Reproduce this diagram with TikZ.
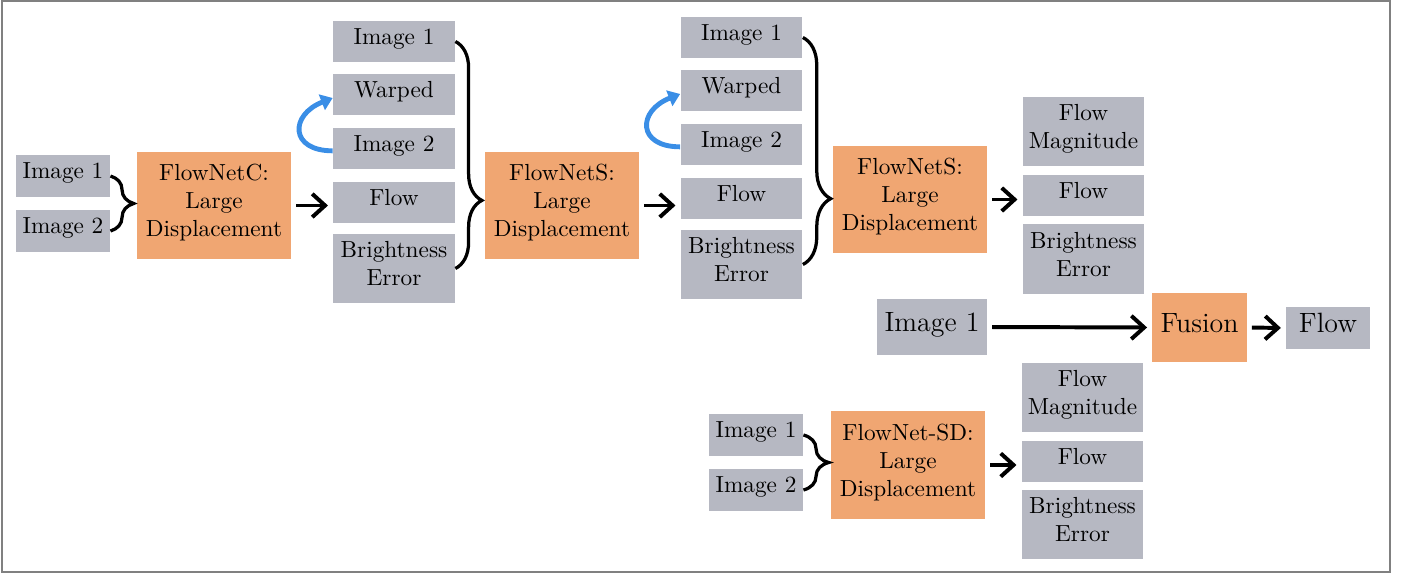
\documentclass[tikz,border=0pt]{standalone}
\usetikzlibrary{arrows.meta,positioning,decorations.pathreplacing}
\definecolor{boxgray}{RGB}{182,184,194}
\definecolor{netorange}{RGB}{240,166,114}
\definecolor{warpblue}{RGB}{58,142,230}
\tikzset
{
    every node/.style = {text depth=4.3pt},
    imgbox/.style  = {fill=boxgray, align=center, inner sep=0pt, minimum width=1.42cm, minimum height=0.63cm},
    outbox/.style  = {fill=boxgray, align=center, inner sep=0pt, minimum width=1.84cm, minimum height=0.62cm},
    tallbox/.style = {outbox, minimum height=1.05cm},
    netbox/.style  = {fill=netorange, align=center, inner sep=0pt, minimum width=2.33cm, minimum height=1.62cm},
    arr/.style     = {-{Straight Barb[length=5.5pt,width=10pt]}, line width=1.7pt},
    brc/.style     = {decorate, line width=1.4pt},
    warp/.style    = {-{Triangle[length=5pt,width=7pt]}, line width=2.1pt, draw=warpblue}
}

\begin{document}
\begin{tikzpicture}[x=0.0151cm, y=-0.0151cm]
\useasboundingbox (0,0) rectangle (1408,574);
\draw[gray, line width=0.6pt] (2,1) rectangle (1390,572);

% first stage
\node (i1)    [imgbox]                        at (63,176)                 {Image 1};
\node (i2)    [imgbox]                        at ([shift=({0,55})]i1)     {Image 2};
\node (netc)  [netbox]                        at (214,205.5)              {FlowNetC:\\Large\\Displacement};
\node (a1)    [outbox]                        at (394,41.5)               {Image 1};
\node (aw)    [outbox]                        at ([shift=({0,53})]a1)     {Warped};
\node (a2)    [outbox]                        at ([shift=({0,54})]aw)     {Image 2};
\node (af)    [outbox]                        at ([shift=({0,54})]a2)     {Flow};
\node (ae)    [tallbox]                       at ([shift=({0,66})]af)     {Brightness\\Error};

% second stage
\node (nets1) [netbox]                        at (562,205.5)              {FlowNetS:\\Large\\Displacement};
\node (b1)    [outbox]                        at (741.5,37.5)             {Image 1};
\node (bw)    [outbox]                        at ([shift=({0,53})]b1)     {Warped};
\node (b2)    [outbox]                        at ([shift=({0,54})]bw)     {Image 2};
\node (bf)    [outbox]                        at ([shift=({0,54})]b2)     {Flow};
\node (be)    [tallbox]                       at ([shift=({0,66})]bf)     {Brightness\\Error};

% third stage
\node (nets2) [netbox]                        at (910,199.5)              {FlowNetS:\\Large\\Displacement};
\node (cm)    [tallbox]                       at (1083.5,131.5)           {Flow\\Magnitude};
\node (cf)    [outbox]                        at ([shift=({0,64})]cm)     {Flow};
\node (ce)    [tallbox]                       at ([shift=({0,63.5})]cf)   {Brightness\\Error};

% small displacement branch
\node (d1)    [imgbox]                        at (756,435)                {Image 1};
\node (d2)    [imgbox]                        at ([shift=({0,55})]d1)     {Image 2};
\node (netsd) [netbox]                        at (908,465)                {FlowNet-SD:\\Large\\Displacement};
\node (dm)    [tallbox]                       at (1082.5,397.5)           {Flow\\Magnitude};
\node (df)    [outbox]                        at ([shift=({0,64})]dm)     {Flow};
\node (de)    [tallbox]                       at ([shift=({0,63})]df)     {Brightness\\Error};

% fusion
\node (img)   [fill=boxgray,inner sep=0pt,minimum width=1.66cm,minimum height=0.85cm,font=\large] at (932,327)     {Image 1};
\node (fus)   [netbox,minimum width=1.43cm,minimum height=1.04cm,font=\large]                    at (1199.5,327.5) {Fusion};
\node (out)   [fill=boxgray,inner sep=0pt,minimum width=1.27cm,minimum height=0.63cm,font=\large] at (1328,328)     {Flow};

\draw[brc, decoration={brace,amplitude=0.35cm}]             (i1.east) -- (i2.east);
\draw[brc, decoration={brace,amplitude=0.4cm,aspect=0.7}]   (a1.east) -- (ae.east);
\draw[brc, decoration={brace,amplitude=0.42cm,aspect=0.71}] (b1.east) -- (be.east);
\draw[brc, decoration={brace,amplitude=0.38cm}]             (d1.east) -- (d2.east);

\draw[warp] ([yshift=-1pt]a2.west) .. controls +(-43,0) and +(-43,17) .. ([yshift=-1.5pt]aw.west);
\draw[warp] ([yshift=-1pt]b2.west) .. controls +(-43,0) and +(-43,17) .. ([yshift=-1.5pt]bw.west);

\path[shorten <=2pt, shorten >=2pt]
(netc.east)   edge[arr]   (netc.east -| af.west)
(nets1.east)  edge[arr]   (nets1.east -| bf.west)
(nets2.east)  edge[arr]   (nets2.east -| cf.west)
(netsd.east)  edge[arr]   (netsd.east -| df.west)
(img.east)    edge[arr]   (fus.west)
(fus.east)    edge[arr]   (out.west);

\end{tikzpicture}
\end{document}
